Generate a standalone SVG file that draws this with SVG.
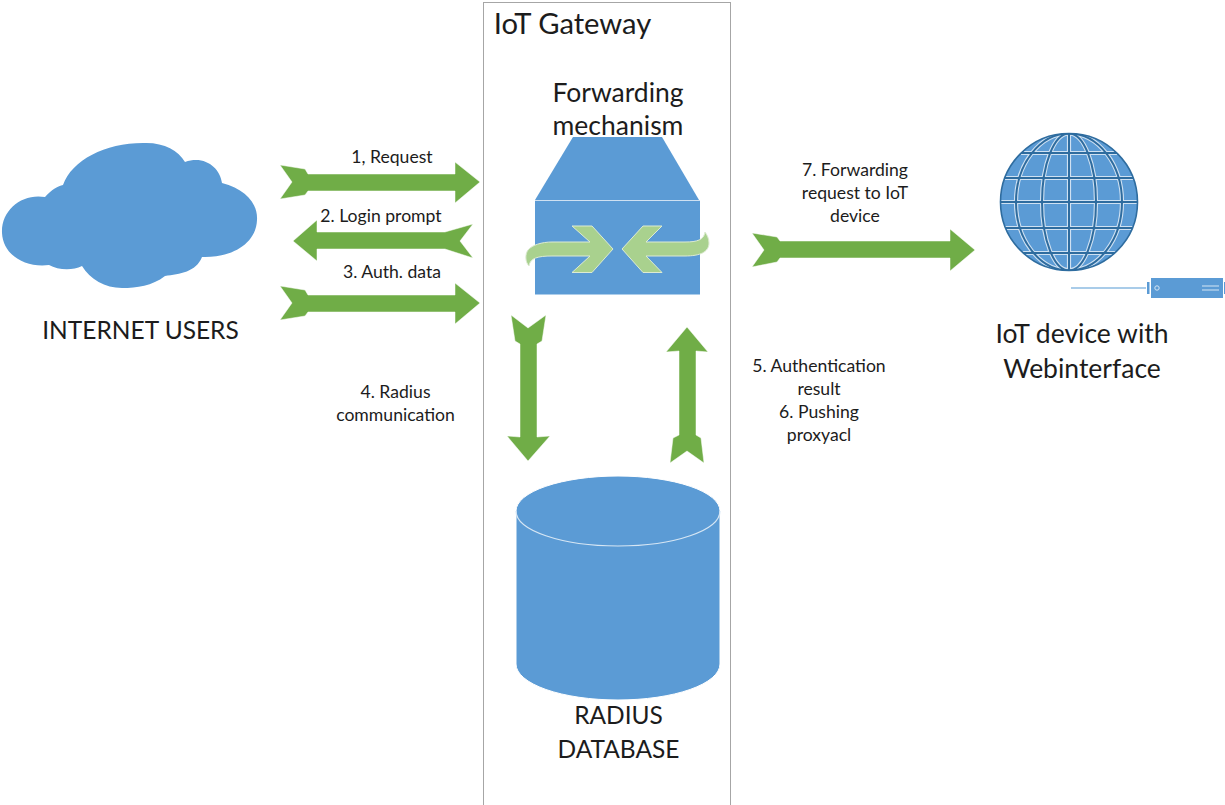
<svg xmlns="http://www.w3.org/2000/svg" width="1225" height="805" viewBox="0 0 1225 805">
<style>
text{font-family:"Lato","Open Sans","Liberation Sans",sans-serif;fill:#1c1c1c;text-anchor:middle}
.s{font-size:17.6px}.l{font-size:24.5px}.x{font-size:26.5px}.t{font-size:29.2px}
.b{fill:#5B9BD5}.a{fill:#70AD47;stroke:#fff;stroke-width:.5}
.m{fill:#A9D18E;stroke:#DDEBD2;stroke-width:1}
</style>
<defs>
<path id="arr" d="M280 165L305 169L308 174H455V162L480 182L455 203V191H308L305 195L280 199L292 182Z"/>
<g id="grid">
<path d="M1069 133.500V270.500M1000.500 202H1137.500M1021 153H1117M1005 178H1133M1005 228H1133M1021 253H1117"/>
<ellipse cx="1069" cy="202" rx="27" ry="68.500"/>
<ellipse cx="1069" cy="202" rx="53" ry="68.500"/>
</g>
</defs>
<g id="gateway"><rect x="483.500" y="2.500" width="247" height="803" fill="#fff" stroke="#A6A6A6" stroke-width="1"/>
<text class="t" x="572.500" y="34">IoT Gateway</text></g>
<g id="internet-users">
<path class="b" d="M45 197C52 189 58 186 63 185C72 160 105 143 143 143C163 142 178 150 185 162C205 155 220 168 222 183C245 189 258 203 257 220C256 245 230 258 202 257C196 272 180 274 165 276C152 286 137 288 122 288C105 288 90 279 82 266C72 271 58 270 49 265C25 268 3 255 2 233C1 210 22 193 45 197Z"/>
<text class="l" x="140.500" y="339">INTERNET USERS</text></g>
<g id="forwarding">
<text class="x" x="618" y="102">Forwarding</text><text class="x" x="618" y="135">mechanism</text>
<path class="b" d="M573 137H662L699 200H535Z"/>
<rect class="b" x="535" y="200.500" width="165" height="94"/>
<path d="M535 200.500H700" stroke="#CFE1F2" stroke-width="1"/>
<path class="m" d="M572 226H592L613 249L592 272.500H572L590 256H552C538 256 530 258 529 266C525 262 525 254 528 250C532 245 542 242 552 242H590Z"/>
<path class="m" d="M662 226H643L622 249L643 272.500H662L646 256H685C700 256 709 252 709 243C709 238 707 235 705 232C704 240 697 242 685 242H646Z"/>
</g>
<g id="connectors">
<use href="#arr" class="a"/>
<use href="#arr" class="a" y="121"/>
<path class="a" d="M293 241L317 220V232H445L473 224L460 241L473 258L445 249H317V261Z"/>
<path class="a" d="M752 233L777 237L780 241H950V229L975 250L950 271V258H780L777 262L752 267L764 250Z"/>
<path class="a" d="M511 315L528 328L546 315L542 341L537 344V437L550 436L528 461L507 436L520 437V344L515 341Z"/>
<path class="a" d="M687 327L708 352L696 351V435L701 438L704 463L687 451L670 463L673 438L679 435V351L666 352Z"/>
<text class="s" x="392" y="163">1, Request</text>
<text class="s" x="381" y="222">2. Login prompt</text>
<text class="s" x="392" y="278">3. Auth. data</text>
<text class="s" x="395.500" y="398">4. Radius</text><text class="s" x="395.500" y="421">communication</text>
<text class="s" x="819" y="372">5. Authentication</text><text class="s" x="819" y="395">result</text>
<text class="s" x="819" y="418">6. Pushing</text><text class="s" x="819" y="441">proxyacl</text>
<text class="s" x="855" y="176">7. Forwarding</text><text class="s" x="855" y="199">request to IoT</text><text class="s" x="855" y="222">device</text>
</g>
<g id="radius-database">
<path class="b" stroke="#fff" d="M516 511A102 35 0 0 1 720 511V664A102 36 0 0 1 516 664Z"/>
<path d="M516 511A102 35 0 0 0 720 511" fill="none" stroke="#D6E6F4" stroke-width="1.200"/>
<text class="l" x="618.500" y="724">RADIUS</text><text class="l" x="618.500" y="758">DATABASE</text>
</g>
<g id="iot-device">
<circle cx="1069" cy="202" r="68.500" class="b"/>
<use href="#grid" fill="none" stroke="#CFE1F2" stroke-width="4.200"/>
<use href="#grid" fill="none" stroke="#2E6C9F" stroke-width="2"/>
<circle cx="1069" cy="202" r="70" fill="none" stroke="#fff" stroke-width="2.400"/>
<circle cx="1069" cy="202" r="68.500" fill="none" stroke="#2E6C9F" stroke-width="1.600"/>
<path d="M1071 288H1146" stroke="#8DBBE2" stroke-width="1.300"/>
<rect class="b" x="1147" y="282" width="2.500" height="12"/>
<rect class="b" x="1151" y="278" width="72" height="20"/>
<rect class="b" x="1224" y="282" width="1.500" height="12"/>
<circle cx="1157" cy="288" r="2.200" fill="none" stroke="#D6E6F4"/>
<path d="M1202 286H1219M1202 290H1219" stroke="#D6E6F4"/>
<text class="x" x="1082" y="343">IoT device with</text><text class="x" x="1082" y="378">Webinterface</text>
</g>
</svg>
